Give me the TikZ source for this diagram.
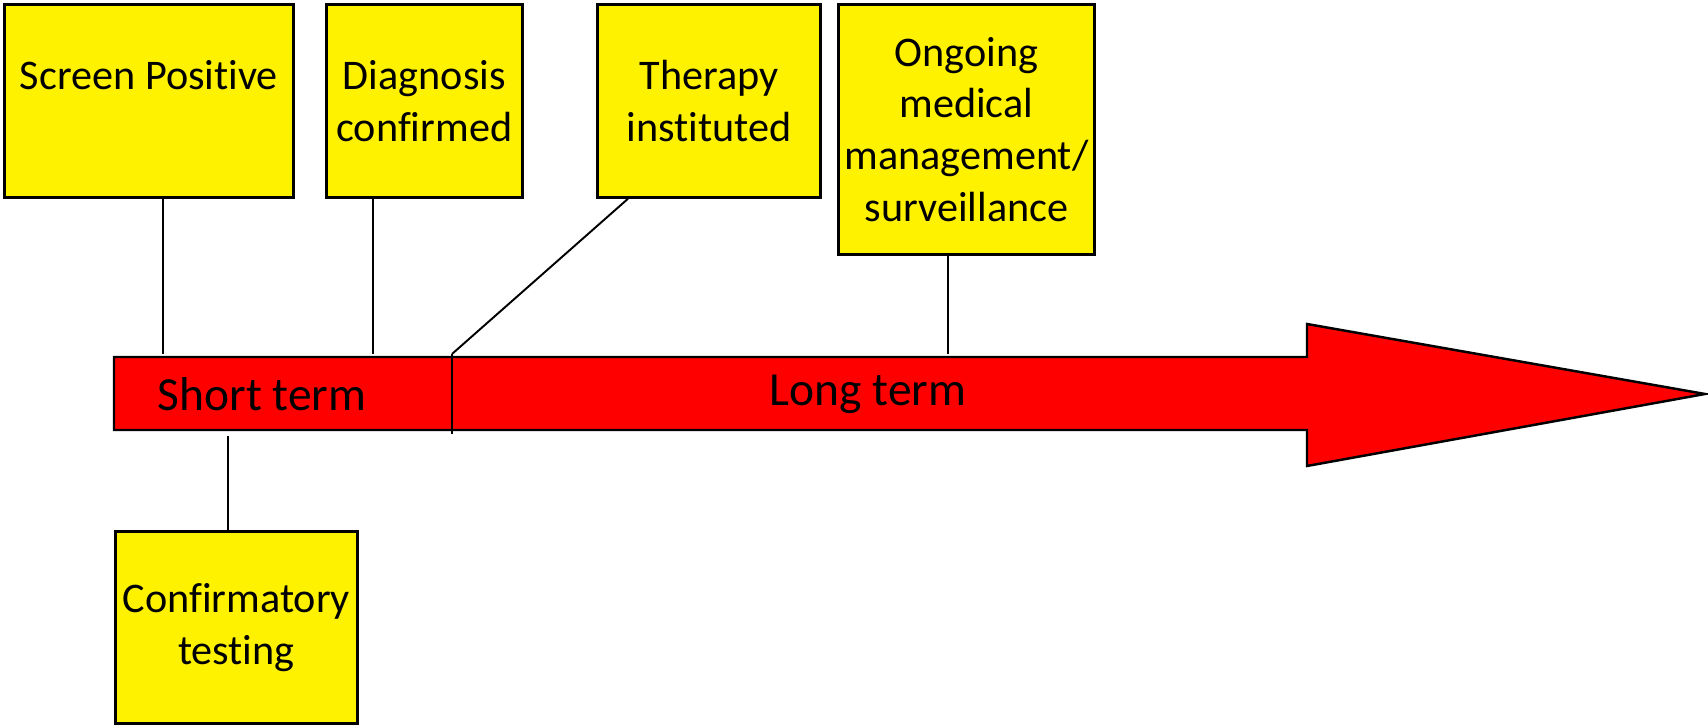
\documentclass[tikz,border=0pt]{standalone}
\usepackage{fontspec}
\setmainfont[Ligatures=NoCommon,RawFeature={-liga;-clig;-dlig}]{Carlito}
\begin{document}
\begin{tikzpicture}[x=0.01cm,y=-0.01cm,
  box/.style={draw=black, line width=0.75pt, fill=yellow, anchor=north west, inner sep=0pt, align=center, font=\fontsize{12}{14.7}\selectfont},
  conn/.style={draw=black, line width=0.55pt},
  barlabel/.style={inner sep=0pt, font=\fontsize{13.5}{16}\selectfont}]
\useasboundingbox (0,0) rectangle (1708,728);
% timeline arrow
\draw[fill=red, line width=0.7pt] (114,357) -- (1307,357) -- (1307,324) -- (1705,394) -- (1307,466) -- (1307,430) -- (114,430) -- cycle;
\coordinate (divtop) at (452,354);
\coordinate (divbot) at (452,434);
\draw[conn] (divtop) -- (divbot);
\node[barlabel] (short) at (262,394) {Short term};
\node[barlabel] (long) at (868,394) {Long term};
% boxes
\node[box, minimum width=2.89cm, minimum height=1.93cm] (sp) at (3,3) {Screen Positive\\ \mbox{}};
\node[box, minimum width=1.96cm, minimum height=1.93cm] (dc) at (325,3) {Diagnosis\\confirmed};
\node[box, minimum width=2.23cm, minimum height=1.93cm] (ti) at (596,3) {Therapy\\instituted};
\node[box, minimum width=2.56cm, minimum height=2.50cm] (om) at (837,3) {Ongoing\\medical\\management/\\surveillance};
\node[box, minimum width=2.42cm, minimum height=1.92cm] (ct) at (114,530) {Confirmatory\\testing};
% connector end points
\coordinate (a1) at (163,354);
\coordinate (a2) at (373,354);
\coordinate (a3) at (628,196);
\coordinate (a4) at (948,354);
\coordinate (a5) at (228,436);
\draw[conn] (a1 |- sp.south) -- (a1);
\draw[conn] (a2 |- dc.south) -- (a2);
\draw[conn] (a3 |- ti.south) -- (divtop);
\draw[conn] (a4 |- om.south) -- (a4);
\draw[conn] (a5) -- (a5 |- ct.north);
\end{tikzpicture}
\end{document}
